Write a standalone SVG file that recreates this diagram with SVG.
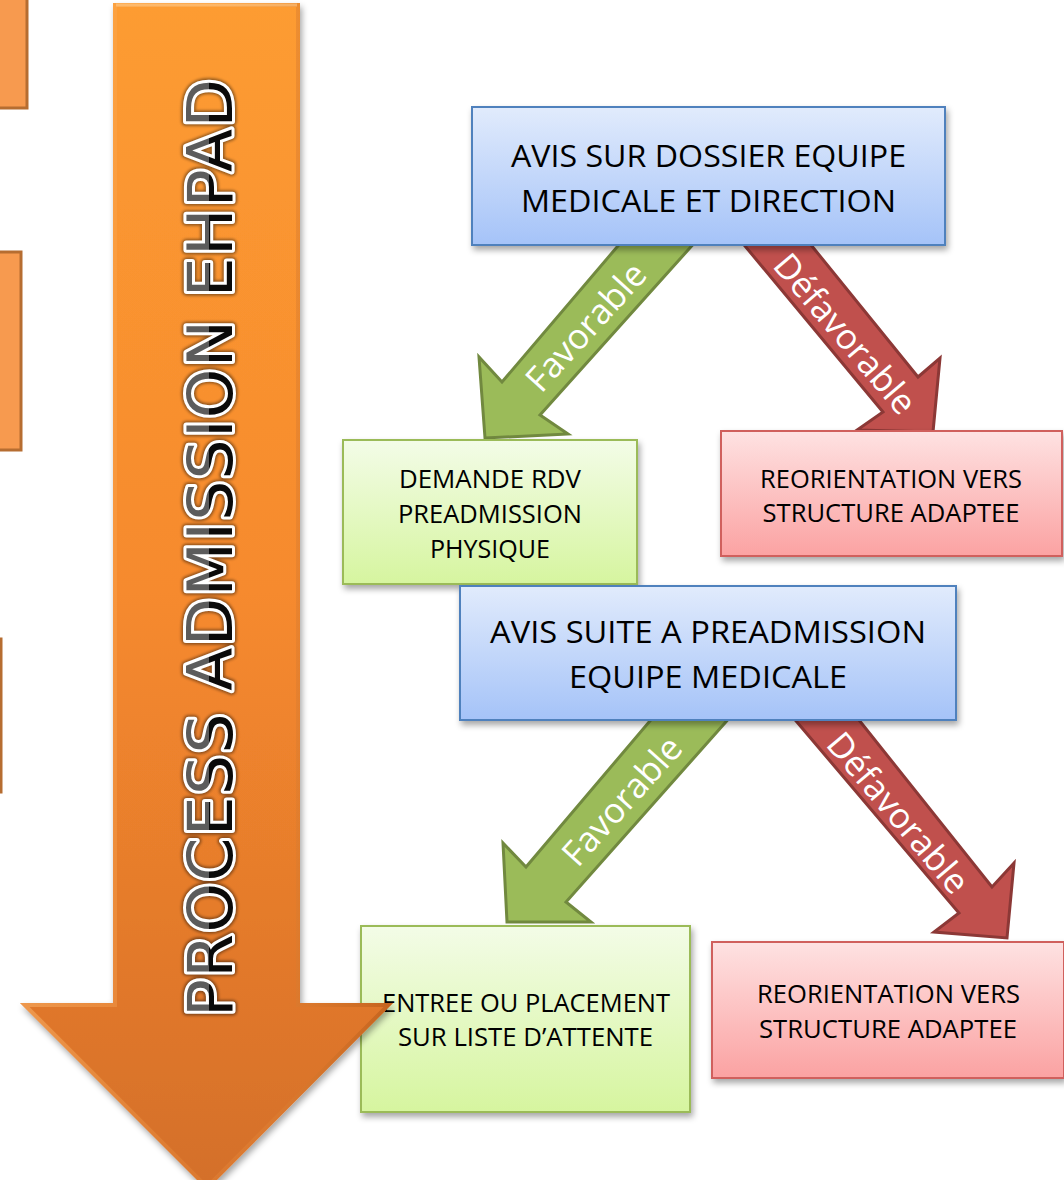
<svg xmlns="http://www.w3.org/2000/svg" width="1064" height="1180" viewBox="0 0 1064 1180">
<defs>
<style>
.t{font-family:"Open Sans","Noto Sans","DejaVu Sans",sans-serif;fill:#000;text-anchor:middle}
.big{font-size:31px}
.small{font-size:25px}
.lbl{font-family:"Open Sans","Noto Sans","DejaVu Sans",sans-serif;font-size:35px;fill:#fff;text-anchor:middle;dominant-baseline:central}
.blue{fill:url(#gBlue);stroke:#4f81bd;stroke-width:2}
.green{fill:url(#gGreen);stroke:#9bbb59;stroke-width:2}
.red{fill:url(#gRed);stroke:#d0605d;stroke-width:2}
.side{fill:#f79a4f;stroke:#b66d31;stroke-width:3}
.fav{fill:#9bbb59;stroke:#71893f;stroke-width:3;stroke-linejoin:miter}
.def{fill:#c0504d;stroke:#8c3836;stroke-width:3;stroke-linejoin:miter}
.title{font-family:"DejaVu Sans","Liberation Sans",sans-serif;font-size:63px;text-anchor:middle}
</style>
<linearGradient id="gBlue" x1="0" y1="0" x2="0" y2="1">
<stop offset="0" stop-color="#e1ebfc"/><stop offset="1" stop-color="#a5c3f8"/>
</linearGradient>
<linearGradient id="gGreen" x1="0" y1="0" x2="0" y2="1">
<stop offset="0" stop-color="#f3fce7"/><stop offset="1" stop-color="#d6f59f"/>
</linearGradient>
<linearGradient id="gRed" x1="0" y1="0" x2="0" y2="1">
<stop offset="0" stop-color="#fee2e2"/><stop offset="1" stop-color="#fba2a2"/>
</linearGradient>
<linearGradient id="gOrange" gradientUnits="userSpaceOnUse" x1="0" y1="0" x2="0" y2="1180">
<stop offset="0" stop-color="#fd9c31"/><stop offset="0.5" stop-color="#f68a2e"/><stop offset="0.85" stop-color="#e0772b"/><stop offset="1" stop-color="#d4702a"/>
</linearGradient>
<linearGradient id="gBevel" gradientUnits="userSpaceOnUse" x1="20" y1="0" x2="393" y2="0">
<stop offset="0" stop-color="#ffc27a" stop-opacity="0.45"/><stop offset="0.5" stop-color="#f59a45" stop-opacity="0.2"/><stop offset="1" stop-color="#b85a18" stop-opacity="0.7"/>
</linearGradient>
<linearGradient id="gLetter" gradientUnits="userSpaceOnUse" x1="0" y1="-46" x2="0" y2="0">
<stop offset="0" stop-color="#5c5c5c"/><stop offset="0.5" stop-color="#5c5c5c"/><stop offset="0.5" stop-color="#0a0a0a"/><stop offset="1" stop-color="#0a0a0a"/>
</linearGradient>
<filter id="shadow" x="-10%" y="-10%" width="125%" height="130%">
<feDropShadow dx="2" dy="4" stdDeviation="3" flood-color="#000" flood-opacity="0.35"/>
</filter>
<filter id="blur" x="-5%" y="-20%" width="110%" height="140%">
<feGaussianBlur stdDeviation="1.5"/>
</filter>
<clipPath id="arrowClip">
<path d="M113,3 L300,3 L300,1003 L393,1003 L207,1190 L20,1003 L113,1003 Z"/>
</clipPath>
</defs>

<g id="side-boxes">
<rect class="side" x="-10" y="-10" width="37" height="118"/>
<rect class="side" x="-10" y="252" width="31" height="198"/>
<rect class="side" x="-10" y="639" width="11" height="153"/>
</g>

<g id="connectors">
<g id="arrow-fav-1">
<path class="fav" d="M623,240 L697,240 L540,415 L568,434 L485,438 L479,357 L502,382 Z"/>
<text class="lbl" transform="translate(585,326) rotate(-47.7)">Favorable</text>
</g>
<g id="arrow-def-1">
<path class="def" d="M740,240 L807,240 L918,377 L940,358 L933,432 L857,430 L883,412 Z"/>
<text class="lbl" transform="translate(846,333) rotate(49.6)">Défavorable</text>
</g>
<g id="arrow-fav-2">
<path class="fav" d="M655,715 L732,715 L566,902 L591,922 L507,922 L503,843 L526,867 Z"/>
<text class="lbl" transform="translate(621,800) rotate(-48.1)">Favorable</text>
</g>
<g id="arrow-def-2">
<path class="def" d="M791,715 L855,715 L992,887 L1014,863 L1007,938 L934,932 L959,913 Z"/>
<text class="lbl" transform="translate(899,812) rotate(49.8)">Défavorable</text>
</g>
</g>

<g id="node-avis-dossier">
<rect class="blue" x="472" y="107" width="473" height="138" filter="url(#shadow)"/>
<text class="t big" x="708.5" y="167" textLength="395" lengthAdjust="spacingAndGlyphs">AVIS SUR DOSSIER EQUIPE</text>
<text class="t big" x="708.5" y="212" textLength="375" lengthAdjust="spacingAndGlyphs">MEDICALE ET DIRECTION</text>
</g>

<g id="node-demande-rdv">
<rect class="green" x="343" y="440" width="294" height="144" filter="url(#shadow)"/>
<text class="t small" x="490" y="488" textLength="182" lengthAdjust="spacingAndGlyphs">DEMANDE RDV</text>
<text class="t small" x="490" y="523" textLength="184" lengthAdjust="spacingAndGlyphs">PREADMISSION</text>
<text class="t small" x="490" y="557.5" textLength="120" lengthAdjust="spacingAndGlyphs">PHYSIQUE</text>
</g>

<g id="node-reorientation-1">
<rect class="red" x="721" y="431" width="341" height="125" filter="url(#shadow)"/>
<text class="t small" x="891" y="487.5" textLength="262" lengthAdjust="spacingAndGlyphs">REORIENTATION VERS</text>
<text class="t small" x="891" y="521.5" textLength="257" lengthAdjust="spacingAndGlyphs">STRUCTURE ADAPTEE</text>
</g>

<g id="node-avis-preadmission">
<rect class="blue" x="460" y="586" width="496" height="134" filter="url(#shadow)"/>
<text class="t big" x="708" y="643" textLength="436" lengthAdjust="spacingAndGlyphs">AVIS SUITE A PREADMISSION</text>
<text class="t big" x="708" y="687.5" textLength="278" lengthAdjust="spacingAndGlyphs">EQUIPE MEDICALE</text>
</g>

<g id="node-entree">
<rect class="green" x="361" y="926" width="329" height="186" filter="url(#shadow)"/>
<text class="t small" x="526" y="1011.5" textLength="288" lengthAdjust="spacingAndGlyphs">ENTREE OU PLACEMENT</text>
<text class="t small" x="525.5" y="1046" textLength="255" lengthAdjust="spacingAndGlyphs">SUR LISTE D’ATTENTE</text>
</g>

<g id="node-reorientation-2">
<rect class="red" x="712" y="942" width="352" height="136" filter="url(#shadow)"/>
<text class="t small" x="888.5" y="1003" textLength="263" lengthAdjust="spacingAndGlyphs">REORIENTATION VERS</text>
<text class="t small" x="888" y="1037.5" textLength="258" lengthAdjust="spacingAndGlyphs">STRUCTURE ADAPTEE</text>
</g>

<g id="process-arrow">
<path d="M113,3 L300,3 L300,1003 L393,1003 L207,1190 L20,1003 L113,1003 Z" fill="url(#gOrange)" filter="url(#shadow)"/>
<path d="M113,3 L300,3 L300,1003 L393,1003 L207,1190 L20,1003 L113,1003 Z" fill="none" stroke="url(#gBevel)" stroke-width="8" clip-path="url(#arrowClip)"/>
<path d="M116,5 L297,5" stroke="#ffd39a" stroke-width="3" opacity="0.5"/>
<g transform="translate(232,548) rotate(-90)">
<text class="title" x="0" y="0" textLength="938" lengthAdjust="spacing" fill="none" stroke="#000" stroke-width="9" stroke-linejoin="round" opacity="0.45" filter="url(#blur)">PROCESS ADMISSION EHPAD</text>
<text class="title" x="0" y="0" textLength="938" lengthAdjust="spacing" fill="url(#gLetter)" stroke="#fff" stroke-width="6" stroke-linejoin="round" paint-order="stroke">PROCESS ADMISSION EHPAD</text>
</g>
</g>
</svg>
